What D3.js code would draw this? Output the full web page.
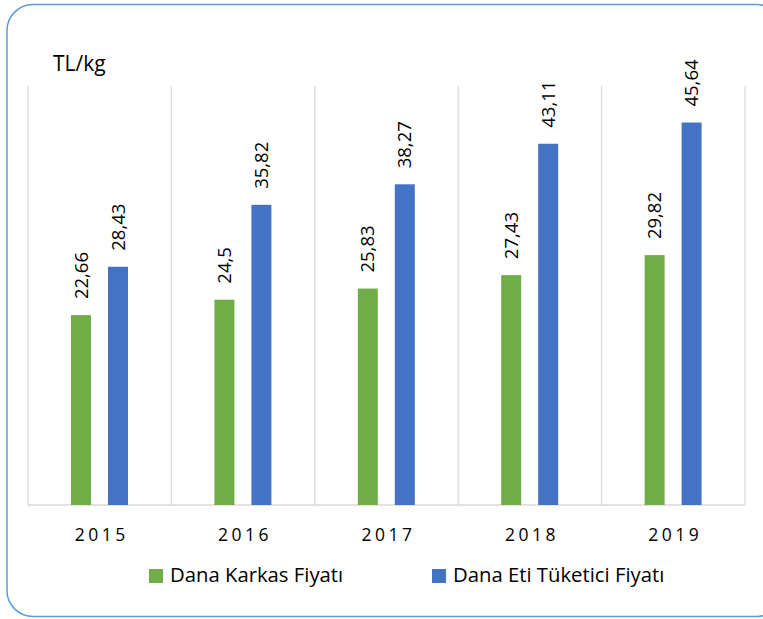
<!DOCTYPE html>
<html><head><meta charset="utf-8">
<script src="https://cdn.jsdelivr.net/npm/d3@7"></script>
<style>body{margin:0;background:#fff}svg{display:block}text{font-family:"Open Sans",Lato,sans-serif;fill:#000}</style>
</head><body>
<svg id="c" width="763" height="619"></svg>
<script>
const years = ["2015","2016","2017","2018","2019"];
const seriesNames = ["Dana Karkas Fiyatı","Dana Eti Tüketici Fiyatı"];
const karkas = [22.66,24.5,25.83,27.43,29.82];
const tuketici = [28.43,35.82,38.27,43.11,45.64];
const labelsK = ["22,66","24,5","25,83","27,43","29,82"];
const labelsT = ["28,43","35,82","38,27","43,11","45,64"];
const colors = ["#70ad47","#4472c4"];
const unit = "TL/kg";

(function(){
const svg = d3.select("#c");
svg.append("rect").attr("x",7).attr("y",4.5).attr("width",775).attr("height",612)
  .attr("rx",26).attr("ry",26).attr("fill","#fff").attr("stroke","#5b9bd5").attr("stroke-width",1.5);

const pL=28,pR=745,pT=86,pB=505;
const x0 = d3.scaleBand().domain(years).range([pL,pR]);
const x1 = d3.scaleBand().domain(seriesNames).range([43,100]).paddingInner(0.4595).paddingOuter(0);
const y = d3.scaleLinear().domain([0,50]).range([pB,pT]);

const bounds = years.map(d=>x0(d)).concat([pR]);
svg.append("g").selectAll("line").data(bounds).join("line")
  .attr("x1",d=>d).attr("x2",d=>d).attr("y1",pT).attr("y2",pB)
  .attr("stroke","#d9d9d9").attr("stroke-width",1.3);
svg.append("line").attr("x1",pL).attr("x2",pR).attr("y1",pB).attr("y2",pB)
  .attr("stroke","#d9d9d9").attr("stroke-width",1.5);

const data = years.map((yr,i)=>({yr, vals:[karkas[i],tuketici[i]], labs:[labelsK[i],labelsT[i]]}));
const g = svg.append("g");
data.forEach(d=>{
  d.vals.forEach((v,j)=>{
    const bx = x0(d.yr)+x1(seriesNames[j]);
    const bw = x1.bandwidth();
    g.append("rect").attr("x",bx).attr("y",y(v)).attr("width",bw).attr("height",y(0)-y(v)).attr("fill",colors[j]);
    const cx = bx+bw/2, ty = y(v)-16;
    g.append("text").attr("transform",`translate(${cx},${ty}) rotate(-90)`)
      .attr("dy","0.36em").attr("font-size",18.5).text(d.labs[j]);
  });
});

svg.append("g").selectAll("text").data(years).join("text")
  .attr("x",d=>x0(d)+x0.bandwidth()/2+2).attr("y",541).attr("text-anchor","middle")
  .attr("font-size",17.5).attr("letter-spacing","3.5px").text(d=>d);

svg.append("text").attr("x",53).attr("y",71).attr("font-size",21).text(unit);

const legX = [149,432];
seriesNames.forEach((s,j)=>{
  svg.append("rect").attr("x",legX[j]).attr("y",569).attr("width",14).attr("height",14).attr("fill",colors[j]);
  svg.append("text").attr("x",legX[j]+21).attr("y",582).attr("font-size",20.3).text(s);
});
})();
</script>
</body></html>
